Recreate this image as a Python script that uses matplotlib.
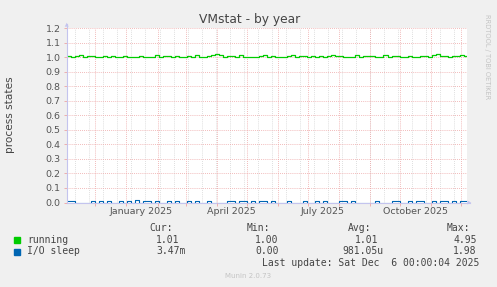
import datetime as dt
import matplotlib
matplotlib.use("Agg")
import matplotlib.pyplot as plt
import matplotlib.dates as mdates

# ---- data ----
title = "VMstat - by year"
ylabel = "process states"
start = dt.datetime(2024, 11, 2, 10)
step_days = 4
running = [1.010, 1.005, 1.011, 1.017, 1.005, 1.011, 1.011, 1.005, 1.005, 1.011,
           1.005, 1.011, 1.005, 1.005, 1.011, 1.005, 1.005, 1.005, 1.011, 1.005,
           1.005, 1.005, 1.017, 1.005, 1.011, 1.011, 1.005, 1.011, 1.005, 1.005,
           1.011, 1.005, 1.017, 1.005, 1.005, 1.011, 1.017, 1.024, 1.017, 1.005,
           1.011, 1.011, 1.005, 1.017, 1.005, 1.005, 1.005, 1.005, 1.011, 1.017,
           1.005, 1.011, 1.005, 1.005, 1.005, 1.011, 1.017, 1.005, 1.011, 1.011,
           1.005, 1.011, 1.005, 1.011, 1.005, 1.011, 1.017, 1.011, 1.011, 1.005,
           1.005, 1.005, 1.017, 1.005, 1.011, 1.011, 1.011, 1.005, 1.005, 1.017,
           1.005, 1.011, 1.011, 1.005, 1.005, 1.011, 1.005, 1.005, 1.011, 1.011,
           1.005, 1.017, 1.024, 1.011, 1.011, 1.005, 1.011, 1.011, 1.017, 1.011,
           1.011]
io_sleep = [0.007, 0.007, 0, 0, 0, 0, 0.007, 0, 0.007, 0,
            0.007, 0, 0, 0.007, 0, 0.007, 0, 0.014, 0, 0.007,
            0.007, 0, 0.007, 0, 0, 0.007, 0, 0.007, 0, 0,
            0.007, 0, 0.007, 0, 0, 0.007, 0, 0, 0, 0,
            0.007, 0.007, 0, 0.007, 0.007, 0, 0.007, 0, 0.007, 0.007,
            0, 0.007, 0, 0, 0, 0.007, 0, 0, 0, 0.007,
            0, 0, 0.007, 0, 0.007, 0, 0, 0, 0.007, 0.007,
            0, 0.007, 0, 0, 0, 0, 0, 0.007, 0, 0,
            0, 0.007, 0.007, 0, 0, 0.007, 0, 0.007, 0.007, 0,
            0, 0.007, 0, 0.007, 0.007, 0, 0.007, 0, 0.007, 0.007,
            0.007]
series_names = ["running", "I/O sleep"]
series_colors = ["#00cc00", "#0066b3"]
cur = ["1.01", "3.47m"]
mins = ["1.00", "0.00"]
avgs = ["1.01", "981.05u"]
maxs = ["4.95", "1.98"]
month_labels = ["January 2025", "April 2025", "July 2025", "October 2025"]
label_dates = [dt.datetime(2025, 1, 16), dt.datetime(2025, 4, 16),
               dt.datetime(2025, 7, 16), dt.datetime(2025, 10, 16)]
last_update = "Last update: Sat Dec  6 00:00:04 2025"
version = "Munin 2.0.73"
watermark = "RRDTOOL / TOBI OETIKER"

times = [start + dt.timedelta(days=step_days * i) for i in range(len(running))]
xmin = start
xmax = dt.datetime(2025, 12, 6, 10)

W, H = 497, 287
fig = plt.figure(figsize=(W / 100, H / 100), dpi=100, facecolor="#f0f0f0")
L, R, B, T = 66.7, 466.7, 202.5, 28.3
ax = fig.add_axes([L / W, 1 - B / H, (R - L) / W, (B - T) / H])
ax.set_facecolor("white")
ax.set_xlim(xmin, xmax)
ax.set_ylim(0, 1.2)
for s in ax.spines.values():
    s.set_visible(False)

# minor grid: every 2 weeks (Mondays)
d = dt.datetime(2024, 11, 11)
while d < xmax:
    ax.axvline(d, color="#d4d4d4", lw=0.6, ls=(0, (1, 1.5)), zorder=1)
    d += dt.timedelta(days=14)
# major grid: month starts
month_starts = []
y, m = 2024, 12
while dt.datetime(y, m, 1) < xmax:
    month_starts.append(dt.datetime(y, m, 1))
    m += 1
    if m > 12:
        m, y = 1, y + 1
for ms in month_starts:
    ax.axvline(ms, color="#eda4a4", lw=0.6, ls=(0, (1, 1.5)), zorder=1.5)
yt = [i / 10 for i in range(13)]
for v in yt[1:]:
    ax.axhline(v, color="#eda4a4", lw=0.6, ls=(0, (1, 1.5)), zorder=1.5)

ax.plot(times, running, color=series_colors[0], lw=0.9, drawstyle="steps-post", zorder=3)
ax.plot(times, io_sleep, color=series_colors[1], lw=0.8, drawstyle="steps-post", zorder=3)

ax.set_yticks(yt)
ax.set_yticklabels([f"{v:.1f}" for v in yt])
ax.tick_params(axis="y", length=2, width=0.6, color="#eda4a4", labelsize=6.8,
               labelcolor="#555555", pad=2.5)
ax.set_xticks(month_starts)
ax.set_xticklabels([])
ax.tick_params(axis="x", which="major", length=2, width=0.6, color="#eda4a4")
ax.set_xticks(label_dates, minor=True)
ax.set_xticklabels(month_labels, minor=True)
ax.tick_params(axis="x", which="minor", length=0, labelsize=6.8,
               labelcolor="#555555", pad=3)

# axes arrows
axc = "#c4c4ee"
fig.add_artist(plt.Line2D([L / W, L / W], [1 - B / H, 1 - 24 / H], color=axc, lw=0.8,
                          transform=fig.transFigure))
fig.add_artist(plt.Line2D([L / W, 470 / W], [1 - (B + 0.3) / H, 1 - (B + 0.3) / H],
                          color=axc, lw=0.8, transform=fig.transFigure, zorder=0))
ax.annotate("", xy=(L / W, 1 - 20 / H), xytext=(L / W, 1 - 26 / H),
            xycoords="figure fraction",
            arrowprops=dict(arrowstyle="-|>", color=axc, lw=0, mutation_scale=7))
ax.annotate("", xy=(474 / W, 1 - B / H), xytext=(468 / W, 1 - B / H),
            xycoords="figure fraction",
            arrowprops=dict(arrowstyle="-|>", color=axc, lw=0, mutation_scale=7))

fig.text(249.5 / W, 1 - 19.5 / H, title, ha="center", va="center", fontsize=8.8,
         color="#444444")
fig.text(10.5 / W, 1 - 115 / H, ylabel, rotation=90, ha="center", va="center",
         fontsize=7.6, color="#444444")
fig.text(487.5 / W, 1 - 57 / H, watermark, rotation=270, ha="center", va="center",
         fontsize=4.8, color="#c4c4c4")
fig.text(248 / W, 1 - 276 / H, version, ha="center", va="center", fontsize=5,
         color="#c4c4c4")

mono = dict(family="DejaVu Sans Mono", fontsize=7, color="#444444", va="center")
fig.text(149 / W, 1 - 228 / H, "Cur:", **mono)
fig.text(247 / W, 1 - 228 / H, "Min:", **mono)
fig.text(348 / W, 1 - 228 / H, "Avg:", **mono)
fig.text(447 / W, 1 - 228 / H, "Max:", **mono)
rows_y = [240, 251.5]
for k in range(2):
    yy = 1 - rows_y[k] / H
    fig.add_artist(plt.Rectangle((14 / W, yy - 3 / H), 6 / W, 6 / H,
                                 color=series_colors[k], transform=fig.transFigure))
    fig.text(27 / W, yy, series_names[k], **mono)
    fig.text(156 / W, yy, cur[k], **mono)
    fig.text(255 / W, yy, mins[k], **mono)
    fig.text((355 if k == 0 else 342) / W, yy, avgs[k], **mono)
    fig.text(453 / W, yy, maxs[k], **mono)
fig.text(262 / W, 1 - 263.5 / H, last_update, **mono)

fig.savefig("out.png", dpi=100, facecolor=fig.get_facecolor())
